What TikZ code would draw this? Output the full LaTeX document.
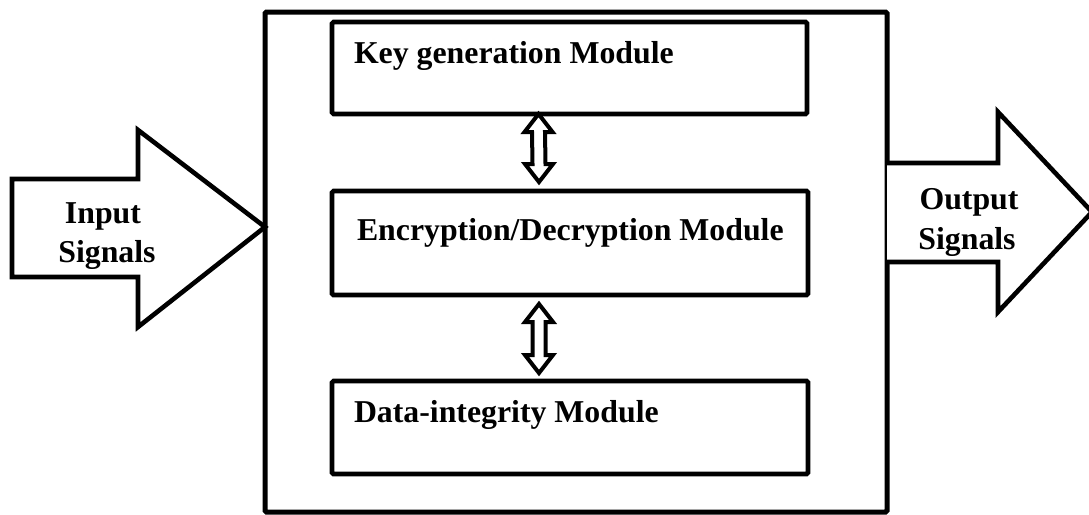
\documentclass[tikz,border=0pt]{standalone}
\usepackage{fontspec}
\setmainfont{Liberation Serif}
\usetikzlibrary{calc}
\tikzset{
  box/.style={draw=black, line width=4.6pt, rounded corners=1.5pt, outer sep=0pt, inner sep=0pt, fill=white},
  outerbox/.style={draw=black, line width=5pt, rounded corners=1.5pt, outer sep=0pt, inner sep=0pt},
  lbl/.style={font=\fontsize{31.8}{40}\selectfont\bfseries, inner sep=0pt, outer sep=0pt},
  bigarrow/.style={draw=black, fill=white, line width=4.6pt, line join=miter},
  dblarrow/.style={draw=black, fill=white, line width=4pt, line join=miter},
}
\newcommand\vdblarrow[2]{%
  \draw[dblarrow] (#1) -- ($(#1)+(14,18)$) -- ($(#1)+(6.5,18)$) -- ($(#2)+(6.5,-18)$) -- ($(#2)+(14,-18)$) -- (#2)
    -- ($(#2)+(-14,-18)$) -- ($(#2)+(-6.5,-18)$) -- ($(#1)+(-6.5,18)$) -- ($(#1)+(-14,18)$) -- cycle;}
\begin{document}
\begin{tikzpicture}[x=1pt, y=-1pt]
  \useasboundingbox (0,0) rectangle (1089,514);
  \clip (0,0) rectangle (1089,514);
  % outer system box
  \node[outerbox, minimum width=622pt, minimum height=500pt] (sys) at (576,262) {};
  % modules
  \node[box, minimum width=475pt, minimum height=92pt] (key) at (569.5,68) {};
  \node[box, minimum width=476pt, minimum height=104pt] (enc) at (570,243) {};
  \node[box, minimum width=476pt, minimum height=93pt] (dat) at (570,427.5) {};
  \node[lbl, anchor=base west] (keyt) at ($(key.north west)+(22,41)$) {Key generation Module};
  \node[lbl, anchor=base west] (enct) at ($(enc.north west)+(25,49)$) {Encryption/Decryption Module};
  \node[lbl, anchor=base west] (datt) at ($(dat.north west)+(22,41)$) {Data-integrity Module};
  % double arrows between modules
  \coordinate (a1t) at ($(key.south)+(-31,0)$);
  \coordinate (a1b) at ($(enc.north)+(-31,-9)$);
  \coordinate (a2t) at ($(enc.south)+(-31,9)$);
  \coordinate (a2b) at ($(dat.north)+(-31,-8)$);
  \vdblarrow{a1t}{a1b}
  \vdblarrow{a2t}{a2b}
  % input arrow
  \coordinate (intip) at (sys.west |- 0,227);
  \draw[bigarrow] (12,179) -- (138,179) -- (138,130) -- (intip) -- (138,327) -- (138,277) -- (12,277) -- cycle;
  \node[lbl, anchor=base] (in1) at (103,223) {Input};
  \node[lbl, anchor=base] (in2) at (107,262) {Signals};
  % output arrow
  \coordinate (outbase) at (sys.east |- 0,163);
  \draw[bigarrow] (outbase) -- (998,163) -- (998,112) -- (1092,212) -- (998,312) -- (998,262) -- (sys.east |- 0,262);
  \node[lbl, anchor=base] (out1) at (969,209) {Output};
  \node[lbl, anchor=base] (out2) at (967,249) {Signals};
\end{tikzpicture}
\end{document}
